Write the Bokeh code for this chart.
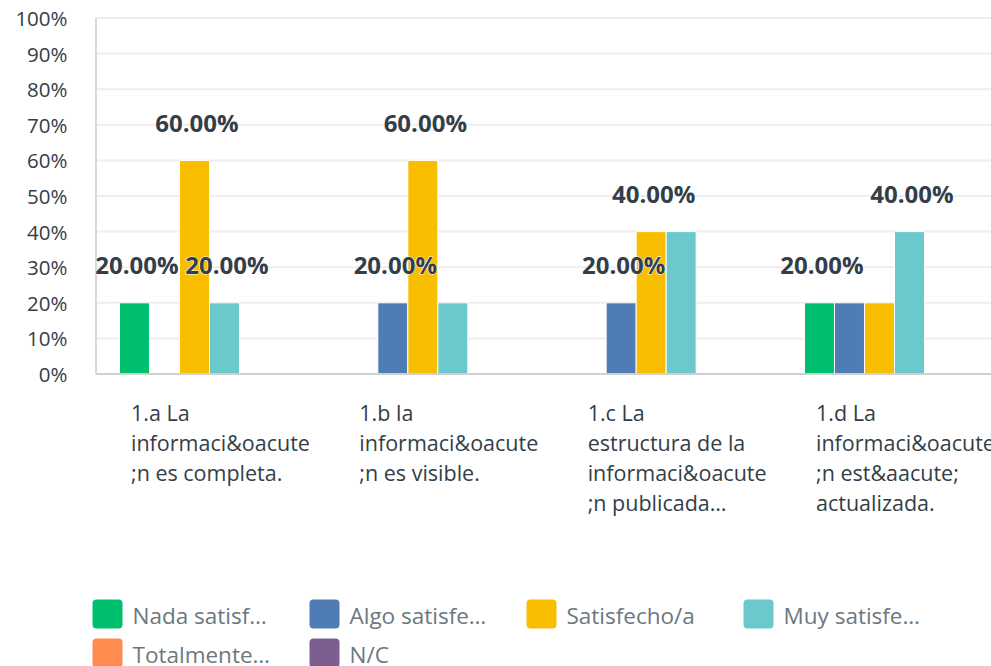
from bokeh.plotting import figure
from bokeh.models import Range1d, FixedTicker, ColumnDataSource
from bokeh.core.properties import value
from bokeh.embed import file_html
from bokeh.resources import INLINE

# ---------------- data ----------------
category_lines = [
    ["1.a La", "informaci&oacute", ";n es completa."],
    ["1.b la", "informaci&oacute", ";n es visible."],
    ["1.c La", "estructura de la", "informaci&oacute", ";n publicada\u2026"],
    ["1.d La", "informaci&oacute", ";n est&aacute;", "actualizada."],
]
series_names = ["Nada satisf\u2026", "Algo satisfe\u2026", "Satisfecho/a",
                "Muy satisfe\u2026", "Totalmente\u2026", "N/C"]
series_colors = ["#00BF6F", "#507CB6", "#F9BE00", "#6BC8CD", "#FF8B4F", "#7D5E90"]

nada = [20, 0, 0, 20]
algo = [0, 20, 20, 20]
satisfecho = [60, 60, 40, 20]
muy = [20, 20, 40, 40]
totalmente = [0, 0, 0, 0]
nc = [0, 0, 0, 0]
series_values = [nada, algo, satisfecho, muy, totalmente, nc]

# which data labels are visible (others hidden by overlap in the original)
label_nada = [True, False, False, True]
label_algo = [False, True, True, False]
label_satisfecho = [True, True, True, False]
label_muy = [True, False, False, True]
label_totalmente = [False, False, False, False]
label_nc = [False, False, False, False]
series_label_flags = [label_nada, label_algo, label_satisfecho, label_muy,
                      label_totalmente, label_nc]

y_ticks = [0, 10, 20, 30, 40, 50, 60, 70, 80, 90, 100]
y_tick_labels = ["0%", "10%", "20%", "30%", "40%", "50%", "60%", "70%", "80%", "90%", "100%"]

# ---------------- layout constants ----------------
W, H = 991, 666
FRAME_LEFT = 80          # px
FRAME_TOP = 12
PLOT_LEFT = 94           # px where the plotting area (axis line) begins
GROUP_PX = 228.33        # px per category
PX_PER_UNIT_Y = 3.56
ZERO_Y = 373.5           # px of 0%
TEXT_SHIFT = 10          # px compensation for text baseline rendering

x_start = 0.5 - (209 - FRAME_LEFT) / GROUP_PX
x_end = x_start + (W - FRAME_LEFT) / GROUP_PX
y_start = -(H - ZERO_Y) / PX_PER_UNIT_Y
y_end = (ZERO_Y - FRAME_TOP) / PX_PER_UNIT_Y


def xr(px):
    return x_start + (px - FRAME_LEFT) / GROUP_PX


def yr(py):
    return (ZERO_Y - py) / PX_PER_UNIT_Y


TEXT_DARK = "#333e48"
LEGEND_TEXT = "#6b787f"
FONT = "Open Sans"

p = figure(width=W, height=H, output_backend="svg", toolbar_location=None,
           x_range=Range1d(x_start, x_end), y_range=Range1d(y_start, y_end),
           min_border_left=FRAME_LEFT, min_border_right=0,
           min_border_top=FRAME_TOP, min_border_bottom=0)
p.outline_line_color = None
p.background_fill_color = "white"
p.border_fill_color = "white"
p.xaxis.visible = False
p.xgrid.visible = False
p.ygrid.visible = False

p.yaxis.ticker = FixedTicker(ticks=y_ticks)
p.yaxis.major_label_overrides = {t: l for t, l in zip(y_ticks, y_tick_labels)}
p.yaxis.axis_line_color = None
p.yaxis.major_tick_line_color = None
p.yaxis.minor_tick_line_color = None
p.yaxis.major_label_standoff = 21 - (PLOT_LEFT - FRAME_LEFT)
p.yaxis.major_label_text_font = FONT
p.yaxis.major_label_text_font_size = "20.5px"
p.yaxis.major_label_text_color = TEXT_DARK

# horizontal grid lines (start at the plotting area's left edge)
p.segment(x0=[xr(PLOT_LEFT + 1)] * len(y_ticks), y0=y_ticks,
          x1=[x_end] * len(y_ticks), y1=y_ticks,
          line_color="#eeeeee", line_width=2)

# ---------------- bars ----------------
n_series = len(series_names)
bw = 30 / GROUP_PX
centers = [i + 0.5 for i in range(len(category_lines))]

label_x, label_y, label_t = [], [], []
for k, (vals, color, flags) in enumerate(zip(series_values, series_colors, series_label_flags)):
    xs = [c + (k - (n_series - 1) / 2) * bw for c in centers]
    bx = [x for x, v in zip(xs, vals) if v > 0]
    bt = [v for v in vals if v > 0]
    if bx:
        p.vbar(x=bx, top=bt, bottom=0, width=bw, fill_color=color,
               line_color="white", line_width=1)
    for x, v, f in zip(xs, vals, flags):
        if f:
            label_x.append(x + 2.5 / GROUP_PX)
            label_y.append(v + 7.9 + TEXT_SHIFT / PX_PER_UNIT_Y)
            label_t.append(f"{v:.2f}%")

# axis lines
p.segment(x0=[xr(PLOT_LEFT + 1)], y0=[0], x1=[x_end], y1=[0], line_color="#d0d0d0", line_width=2)
p.segment(x0=[xr(PLOT_LEFT + 1.5)], y0=[0], x1=[xr(PLOT_LEFT + 1.5)], y1=[100],
          line_color="#d9d9d9", line_width=2)

# data labels with white halo
lab_src = ColumnDataSource(dict(x=label_x, y=label_y, t=label_t))
p.text(x="x", y="y", text="t", source=lab_src, text_align="center",
       text_baseline="alphabetic", text_font=value(FONT), text_font_style="bold",
       text_font_size="24px", text_color="white", text_outline_color="white")
p.text(x="x", y="y", text="t", source=lab_src, text_align="center",
       text_baseline="alphabetic", text_font=value(FONT), text_font_style="bold",
       text_font_size="24px", text_color=TEXT_DARK)

# category labels (left aligned, multi-line)
cx, cy, ct = [], [], []
for c, lines in zip(centers, category_lines):
    for i, line in enumerate(lines):
        cx.append(c - 78.5 / GROUP_PX)
        cy.append(yr(412 + 30 * i))
        ct.append(line)
p.text(x=cx, y=cy, text=ct, text_align="left", text_baseline="alphabetic",
       text_font=value(FONT), text_font_size="21.5px", text_color=TEXT_DARK)

# legend
ll, lr, lt, lb, lc, tx, ty, tt = [], [], [], [], [], [], [], []
for k, (name, color) in enumerate(zip(series_names, series_colors)):
    col, row = k % 4, k // 4
    left = 92 + 217 * col
    top = 599 + 39 * row
    ll.append(xr(left)); lr.append(xr(left + 30))
    lt.append(yr(top)); lb.append(yr(top + 29))
    lc.append(color)
    tx.append(xr(left + 40)); ty.append(yr(615 + 39 * row)); tt.append(name)
p.quad(left=ll, right=lr, top=lt, bottom=lb, fill_color=lc, line_color=None,
       border_radius=4)
p.text(x=tx, y=ty, text=tt, text_align="left", text_baseline="alphabetic",
       text_font=value(FONT), text_font_size="22.5px", text_color=LEGEND_TEXT)

open("out.html", "w").write(file_html(p, INLINE))
